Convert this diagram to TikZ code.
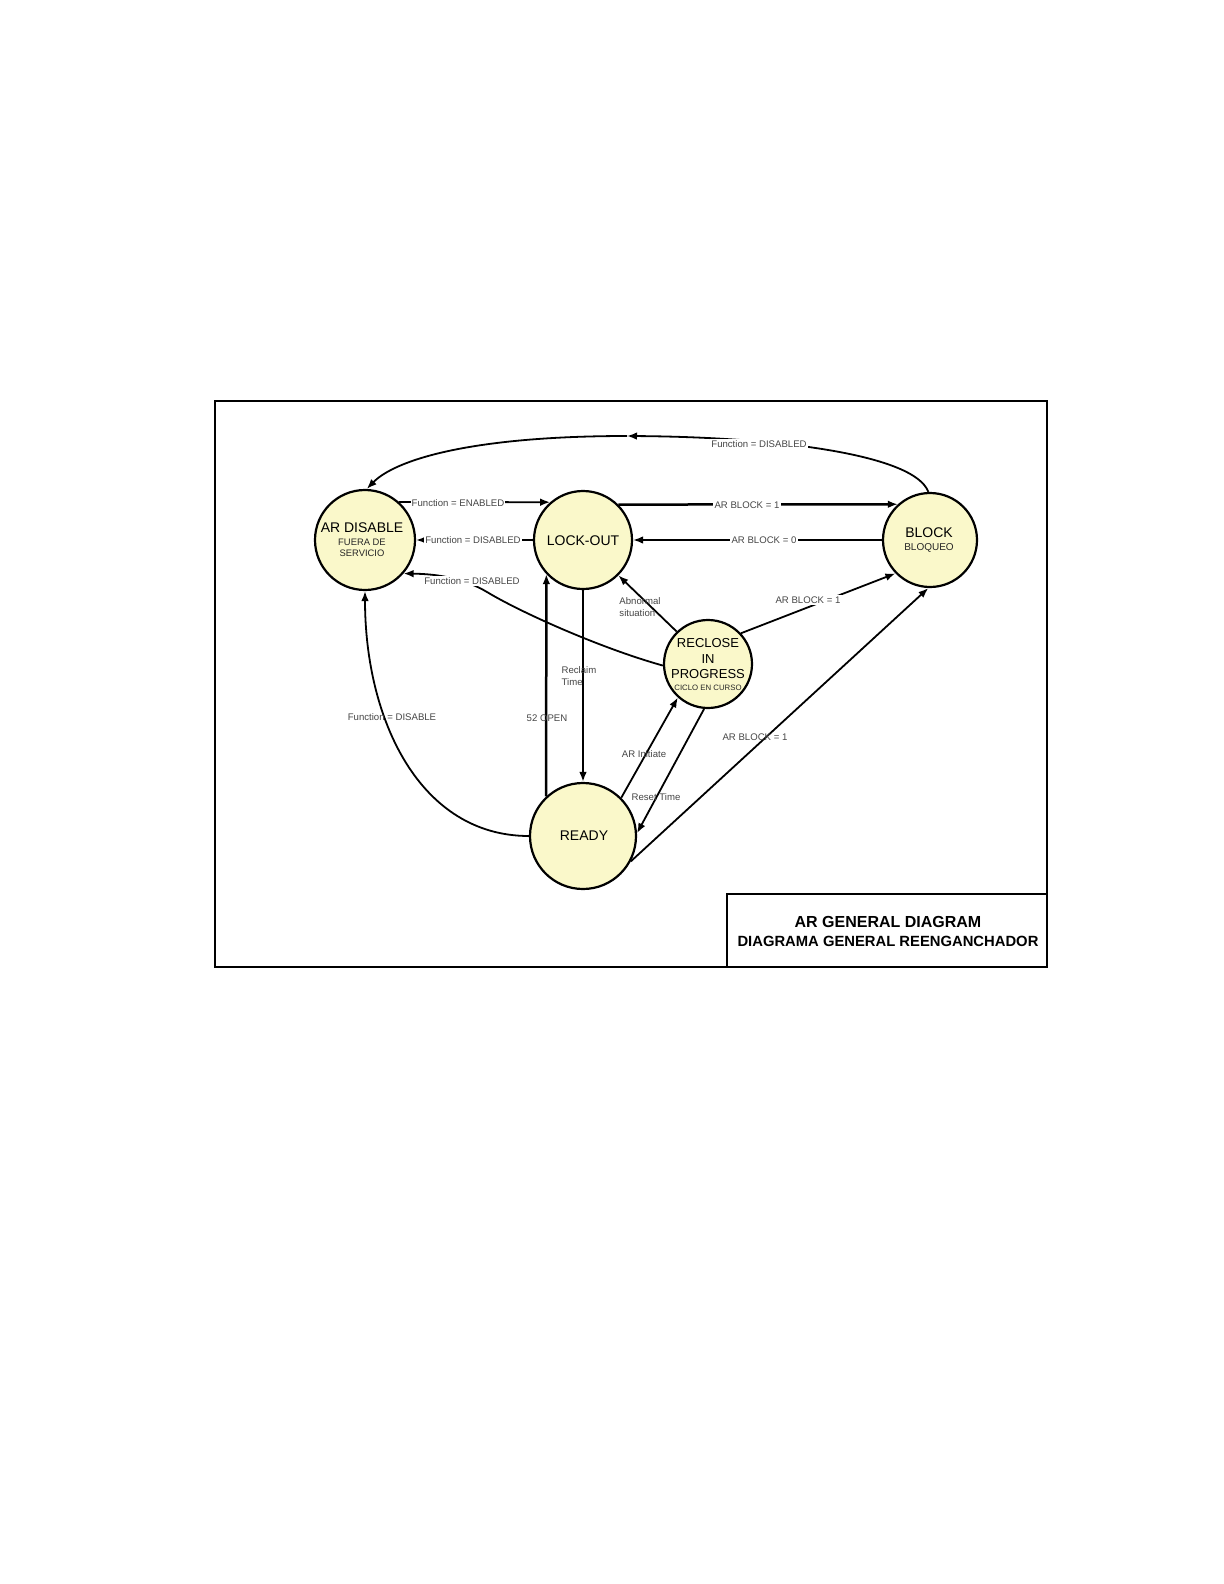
\documentclass[tikz,border=0pt]{standalone}
\usepackage{fontspec}
\setmainfont{Liberation Sans}
\usetikzlibrary{arrows.meta}
\definecolor{statefill}{RGB}{250,248,202}
\definecolor{lblgray}{RGB}{70,70,70}
\begin{document}
\begin{tikzpicture}[x=0.5pt,y=-0.5pt,
  state/.style={circle, draw=black, line width=1.1pt, fill=statefill, inner sep=0pt},
  conn/.style={line width=0.9pt, -{Latex[length=5pt,width=3.8pt]}},
  thickconn/.style={conn, line width=1.25pt},
  lbl/.style={font=\fontsize{4.8}{6}\selectfont, text=lblgray, inner sep=0.6pt},
  lblw/.style={lbl, fill=white},
  big/.style={font=\fontsize{7}{8}\selectfont, inner sep=0pt, anchor=base},
  small/.style={font=\fontsize{4.7}{5.5}\selectfont, inner sep=0pt, anchor=base, text=black!85},
]
\useasboundingbox (0,0) rectangle (1224,1584);
\fill[white] (0,0) rectangle (1224,1584);
% frame
\draw[line width=1pt] (215,401) rectangle (1047,967);
\node[draw, line width=0.9pt, anchor=north west, outer sep=0pt, minimum width=160pt, minimum height=36.5pt, inner sep=0pt] (title) at (727,894) {};
\node[font=\bfseries\fontsize{8}{9}\selectfont, inner sep=0pt, anchor=base] (t1) at (888,927.5) {AR GENERAL DIAGRAM};
\node[font=\bfseries\fontsize{7.4}{9}\selectfont, inner sep=0pt, anchor=base] (t2) at (888,946) {DIAGRAMA GENERAL REENGANCHADOR};

% states
\node[state, minimum size=50pt] (ard) at (365,540) {};
\node[state, minimum size=49pt] (lock) at (583,540) {};
\node[state, minimum size=47pt] (block) at (930,540) {};
\node[state, minimum size=44pt] (reclose) at (708,664) {};
\node[state, minimum size=53pt] (ready) at (583,836) {};

\node[big] (ardt) at (362,532) {AR DISABLE};
\node[small] (ards1) at (362,545.4) {FUERA DE};
\node[small] (ards2) at (362,556.4) {SERVICIO};
\node[big] (lockt) at (583,545) {LOCK-OUT};
\node[big] (blockt) at (929,537) {BLOCK};
\node[small, font=\fontsize{5}{6}\selectfont] (blocks) at (929,550.6) {BLOQUEO};
\node[big, font=\fontsize{6.5}{7}\selectfont] (rect1) at (708,647.6) {RECLOSE};
\node[big, font=\fontsize{6.5}{7}\selectfont] (rect2) at (708,663.6) {IN};
\node[big, font=\fontsize{6.5}{7}\selectfont] (rect3) at (708,678.6) {PROGRESS};
\node[small, font=\fontsize{3.9}{4.5}\selectfont] (recs) at (708,690.8) {CICLO EN CURSO};
\node[big] (readyt) at (584,840) {READY};

% connectors
\coordinate (m1) at (627,436);
\draw[conn] (block.92) .. controls (915,455) and (780,437) .. (m1);
\draw[conn] (m1) .. controls (470,436) and (395,460) .. (ard.88);
\node[lblw] (l1) at (759,444) {Function = DISABLED};

\draw[conn] (ard.48) -- (lock.131);
\node[lblw] (l2) at (458,503) {Function = ENABLED};

\draw[conn] (lock.west) -- (ard.east);
\node[lblw] (l3) at (473,540) {Function = DISABLED};

\draw[thickconn] (lock.45) -- (block.132);
\node[lblw] (l4) at (747,505) {AR BLOCK = 1};

\draw[conn] (block.west) -- (lock.east);
\node[lblw] (l5) at (764,540) {AR BLOCK = 0};

\draw[conn] (reclose.182) .. controls (600,648) and (520,612) .. (487,592) .. controls (465,579) and (440,574) .. (ard.319);
\node[lblw] (l6) at (472,581) {Function = DISABLED};

\draw[conn] (reclose.134) -- (lock.315);
\node[lbl, align=left, font=\fontsize{4.8}{6}\selectfont] (l7) at (640,607) {Abnormal\\situation};

\draw[conn] (reclose.43) -- (block.224);
\node[lblw] (l8) at (808,600) {AR BLOCK = 1};

\draw[thickconn] (ready.133) -- (lock.223);
\node[lbl] (l9) at (547,718) {52 OPEN};

\draw[thickconn] (lock.south) -- (ready.north);
\node[lbl, align=left] (l10) at (579,676) {Reclaim\\Time};

\draw[conn] (ready.45) -- (reclose.228);
\node[lbl] (l11) at (644,754) {AR Initiate};

\draw[conn] (reclose.265) -- (ready.3);
\node[lbl] (l12) at (656,797) {Reset Time};

\draw[conn] (ready.332) -- (block.268);
\node[lbl] (l13) at (755,737) {AR BLOCK = 1};

\draw[conn] (ready.west) .. controls (420,836) and (365,720) .. (ard.south);
\node[lbl] (l14) at (392,717) {Function = DISABLE};
\end{tikzpicture}
\end{document}
